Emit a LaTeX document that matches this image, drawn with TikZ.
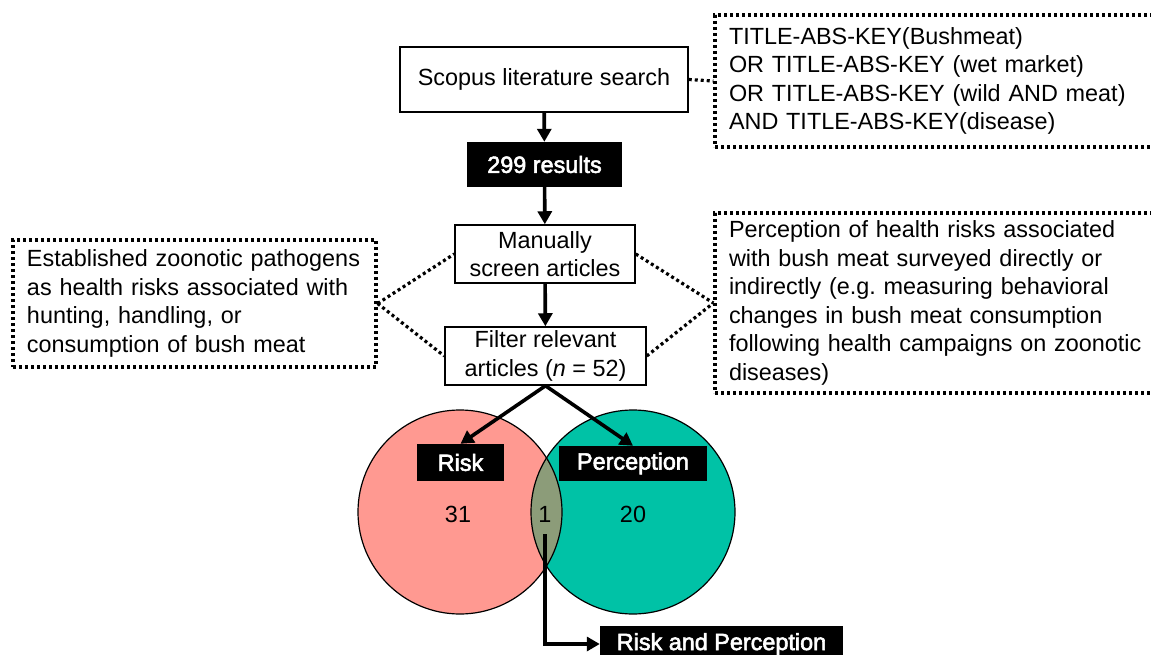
\documentclass[tikz,border=0pt]{standalone}
\usepackage{fontspec}
\setmainfont{Liberation Sans}
\newfontfamily\labelfont[FakeBold=2.5]{Liberation Sans}
\usetikzlibrary{arrows.meta}
\definecolor{riskfill}{RGB}{255,153,145}
\definecolor{percfill}{RGB}{0,194,166}
\definecolor{bothfill}{RGB}{140,156,121}
\begin{document}
\frenchspacing
\begin{tikzpicture}[x=1pt,y=-1pt,
  font=\fontsize{23.4}{28.5}\selectfont,
  flowbox/.style={draw=black,line width=1.5pt,fill=white,align=center,inner sep=0pt},
  blackbox/.style={fill=black,text=white,font=\fontsize{23.4}{28}\labelfont,inner sep=0pt},
  dotbox/.style={draw=black,line width=3.2pt,dash pattern=on 3pt off 3pt,align=left,inner xsep=14pt,inner ysep=0pt},
  dotline/.style={draw=black,line width=3.2pt,dash pattern=on 3pt off 3pt},
  arr/.style={draw=black,line width=3.6pt,-{Triangle[length=13pt,width=14pt]}},
  num/.style={inner sep=0pt}
]
\useasboundingbox (0,0) rectangle (1151,655);

% Venn circles
\fill[riskfill] (460,512) circle (102);
\fill[percfill] (633,512) circle (102);
\begin{scope}
  \clip (460,512) circle (102);
  \fill[bothfill] (633,512) circle (102);
\end{scope}
\draw[line width=1.2pt] (460,512) circle (102);
\draw[line width=1.2pt] (633,512) circle (102);

% flow boxes
\node[flowbox,minimum width=288pt,minimum height=65pt] (scopus) at (544,79.5) {Scopus literature search};
\node[blackbox,minimum width=155pt,minimum height=45pt] (res) at (544.5,164.5) {299 results};
\node[flowbox,minimum width=180pt,minimum height=58pt] (manual) at (545,254) {Manually\\screen articles};
\node[flowbox,minimum width=201pt,minimum height=58pt] (filt) at (545.5,356) {Filter relevant\\articles (\textit{n} = 52)};

% dotted boxes
\node[dotbox,text width=422pt,minimum height=132pt] (qbox) at (940,81) {TITLE-ABS-KEY(Bushmeat)\\OR TITLE-ABS-KEY (wet market)\\OR TITLE-ABS-KEY (wild AND meat)\\AND TITLE-ABS-KEY(disease)};
\node[dotbox,text width=335pt,inner xsep=14pt,minimum height=127pt] (lbox) at (194.5,303.5) {Established zoonotic pathogens\\as health risks associated with\\hunting, handling, or\\consumption of bush meat};
\node[dotbox,text width=422pt,minimum height=180pt] (rbox) at (940,303) {Perception of health risks associated\\with bush meat surveyed directly or\\indirectly (e.g. measuring behavioral\\changes in bush meat consumption\\following health campaigns on zoonotic\\diseases)};

% category boxes
\node[blackbox,minimum width=87pt,minimum height=37pt] (risk) at (460.5,462.5) {Risk};
\node[blackbox,minimum width=148pt,minimum height=35pt] (perc) at (633,463.5) {Perception};
\node[blackbox,minimum width=243pt,minimum height=36pt] (rp) at (721.5,644) {Risk and Perception};

% numbers
\node[num] (n31) at (458,514) {31};
\node[num] (n1) at (545,514) {1};
\node[num] (n20) at (633,514) {20};
\coordinate (c1) at (545,534);

% solid connectors
\draw[arr] (scopus) -- (res);
\draw[arr] (res) -- (manual);
\draw[arr] (manual) -- (filt);
\draw[arr] (filt.south) -- (risk.north);
\draw[arr] (filt.south) -- (perc.north);
\draw[arr] (c1) |- (rp.west);

% dotted connectors
\draw[dotline] (scopus.east) -- (qbox.west);
\draw[dotline] (lbox.east) -- (manual.west);
\draw[dotline] (lbox.east) -- (filt.west);
\draw[dotline] (manual.east) -- (rbox.west);
\draw[dotline] (filt.east) -- (rbox.west);
\end{tikzpicture}
\end{document}
